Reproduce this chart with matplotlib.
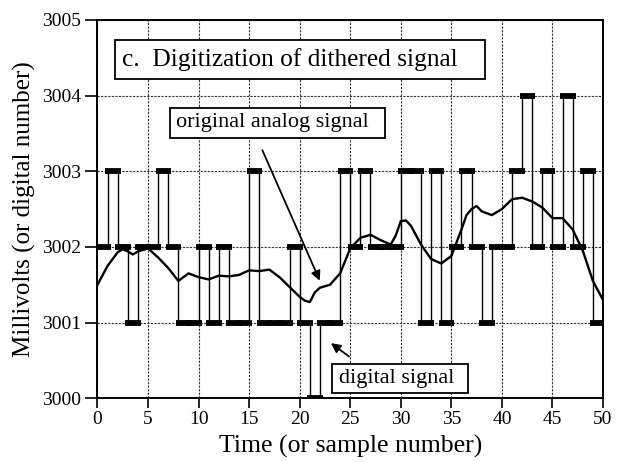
import numpy as np
import matplotlib
matplotlib.use('Agg')
import matplotlib.pyplot as plt
from matplotlib.patches import Rectangle

plt.rcParams['font.family'] = ['Liberation Serif', 'DejaVu Serif']

#Digital signal: value held on each sample interval [n, n+1]
digital = [3002, 3003, 3002, 3001, 3002, 3002, 3003, 3002, 3001, 3001,
           3002, 3001, 3002, 3001, 3001, 3003, 3001, 3001, 3001, 3002,
           3001, 3000, 3001, 3001, 3003, 3002, 3003, 3002, 3002, 3002,
           3003, 3003, 3001, 3003, 3001, 3002, 3003, 3002, 3001, 3002,
           3002, 3003, 3004, 3002, 3003, 3002, 3004, 3002, 3003, 3001]

#Original analog signal
analog_t = [0, 1, 2, 2.5, 3, 3.5, 4, 5, 6, 7, 8, 9, 10, 11, 12, 13, 14, 15,
            16, 17, 18, 19, 20, 20.5, 21, 21.5, 22, 23, 24, 25, 26, 27, 28,
            29, 29.5, 30, 30.5, 31, 32, 33, 34, 35, 36, 36.5, 37, 37.5, 38,
            39, 40, 41, 42, 43, 44, 45, 46, 47, 48, 49, 50]
analog_v = [3001.50, 3001.75, 3001.93, 3001.97, 3001.94, 3001.90, 3001.94,
            3001.98, 3001.86, 3001.72, 3001.55, 3001.65, 3001.60, 3001.57,
            3001.62, 3001.61, 3001.63, 3001.69, 3001.68, 3001.70, 3001.60,
            3001.47, 3001.34, 3001.29, 3001.27, 3001.40, 3001.46, 3001.50,
            3001.65, 3001.98, 3002.12, 3002.16, 3002.09, 3002.03, 3002.15,
            3002.34, 3002.35, 3002.28, 3002.03, 3001.84, 3001.78, 3001.88,
            3002.23, 3002.42, 3002.50, 3002.54, 3002.47, 3002.42, 3002.50,
            3002.63, 3002.65, 3002.60, 3002.52, 3002.38, 3002.38, 3002.23,
            3001.95, 3001.55, 3001.30]

x_ticks = list(range(0, 51, 5))
y_ticks = [3000, 3001, 3002, 3003, 3004, 3005]

fig = plt.figure(figsize=(6.21, 4.62), dpi=100)
ax = fig.add_axes([0.157, 0.138, 0.814, 0.819])

n = np.arange(len(digital))
#thin step line for the transitions
ax.step(np.arange(len(digital) + 1), digital + [digital[-1]], where='post',
        color='black', lw=1.0, zorder=3)
#thick bars for each sample
ax.hlines(digital, n - 0.25, n + 1.3, color='black', lw=4.2,
          capstyle='butt', zorder=4)

ax.plot(analog_t, analog_v, color='black', lw=1.7, zorder=5)

ax.set_xlim(0, 50)
ax.set_ylim(3000, 3005)
ax.set_xticks(x_ticks)
ax.set_yticks(y_ticks)
ax.tick_params(direction='out', width=1.2, labelsize=14)
ax.tick_params(axis='y', length=9, pad=3)
ax.tick_params(axis='x', length=7, pad=2)
ax.grid(True, color='#333333', lw=0.8, linestyle=(0, (2, 1.2)))
ax.set_axisbelow(True)
for s in ax.spines.values():
    s.set_linewidth(1.4)

ax.set_xlabel('Time (or sample number)', fontsize=18.5, labelpad=5)
ax.set_ylabel('Millivolts (or digital number)', fontsize=18, labelpad=4)

#text boxes: frame drawn separately so the text can sit left in it
def boxed(x0, x1, y0, y1, tx, label, size):
    ax.add_patch(Rectangle((x0, y0), x1 - x0, y1 - y0, transform=ax.transAxes,
                           fc='white', ec='black', lw=1.3, zorder=6))
    ax.text(tx, (y0 + y1) / 2, label, fontsize=size, ha='left', va='center',
            transform=ax.transAxes, zorder=7)

boxed(0.035, 0.767, 0.844, 0.947, 0.048, 'c.  Digitization of dithered signal', 18.3)
boxed(0.143, 0.569, 0.687, 0.768, 0.155, 'original analog signal', 16)
boxed(0.463, 0.733, 0.013, 0.090, 0.478, 'digital signal', 16)

ax.annotate('', xy=(22.1, 3001.52), xytext=(16.2, 3003.31),
            arrowprops=dict(arrowstyle='-|>', color='black', lw=1.3,
                            mutation_scale=14), zorder=6)
ax.annotate('', xy=(22.87, 3000.75), xytext=(25.1, 3000.53),
            arrowprops=dict(arrowstyle='-|>', color='black', lw=1.3,
                            mutation_scale=14), zorder=6)

fig.savefig('out.png', dpi=100)
